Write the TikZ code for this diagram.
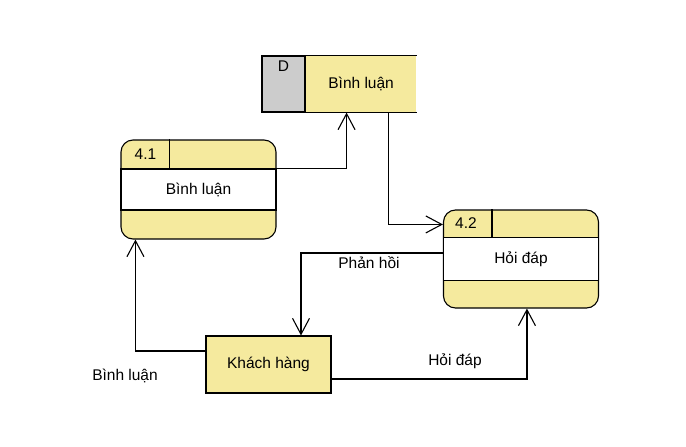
\documentclass[tikz,border=0pt]{standalone}
\usepackage{fontspec}
\setmainfont{Liberation Sans}
\usetikzlibrary{arrows.meta,calc}
\definecolor{procyellow}{HTML}{F5EA9E}
\definecolor{storegray}{HTML}{CCCCCC}
\begin{document}
\begin{tikzpicture}[x=1pt,y=-1pt,line width=1.1pt,
    font=\fontsize{15.5}{18}\selectfont,
    flow/.style={-{Straight Barb[length=16pt,width=17pt,line width=1.1pt]}},
    proc/.style={draw,fill=procyellow,rounded corners=12pt,minimum width=155pt,inner sep=0pt},
    band/.style={draw,fill=white,minimum width=155pt,minimum height=41pt,inner sep=0pt},
    entity/.style={draw,fill=procyellow,minimum width=125pt,minimum height=57pt,inner sep=0pt}]
    \useasboundingbox (0,0) rectangle (686,447);

    % data store
    \node[fill=storegray,draw,minimum width=43pt,minimum height=56pt,inner sep=0pt] (dsid) at (283.5,84) {};
    \node[anchor=north,inner sep=0pt] (dsidtext) at ($(dsid.north)+(0,5)$) {D};
    \node[fill=procyellow,minimum width=110pt,minimum height=56pt,inner sep=0pt,anchor=west] (dsname) at (dsid.east) {Bình luận};
    \draw (dsid.north east) -- (dsname.north east);
    \draw (dsid.south east) -- (dsname.south east);

    % process 4.1
    \node[proc,minimum height=99pt] (p41) at (198.5,189.5) {};
    \node[band] (p41m) at (p41.center) {Bình luận};
    \node[inner sep=0pt] (p41id) at ($(p41.north west)+(25,14.5)$) {4.1};
    \draw ($(p41.north west)+(49,0)$) -- ($(p41m.north west)+(49,0)$);

    % process 4.2
    \node[proc,minimum height=98pt] (p42) at (521,259) {};
    \node[band,minimum height=43pt] (p42m) at (p42.center) {Hỏi đáp};
    \node[inner sep=0pt] (p42id) at ($(p42.north west)+(23,14)$) {4.2};
    \draw ($(p42.north west)+(49,0)$) -- ($(p42m.north west)+(49,0)$);

    % external entity
    \node[entity] (kh) at (268.5,364.5) {Khách hàng};

    % flows
    \draw[flow] (p41m.north east) -| ($(dsname.south west)+(41,0)$);
    \draw[flow] ($(dsname.south west)+(83,0)$) |- ($(p42.north west)+(0,15)$);
    \draw[flow] ($(p42m.west)+(0,-6)$) -| ($(kh.north)+(32.5,0)$);
    \draw[flow] ($(kh.west)+(0,-13.5)$) -| ($(p41.south west)+(15,0)$);
    \draw[flow] ($(kh.east)+(0,14.5)$) -| ($(p42.south west)+(84,0)$);

    % flow labels
    \node (lblphanhoi) at (369,263) {Phản hồi};
    \node (lblhoidap) at (455,361) {Hỏi đáp};
    \node (lblbinhluan) at (125,376) {Bình luận};
\end{tikzpicture}
\end{document}
